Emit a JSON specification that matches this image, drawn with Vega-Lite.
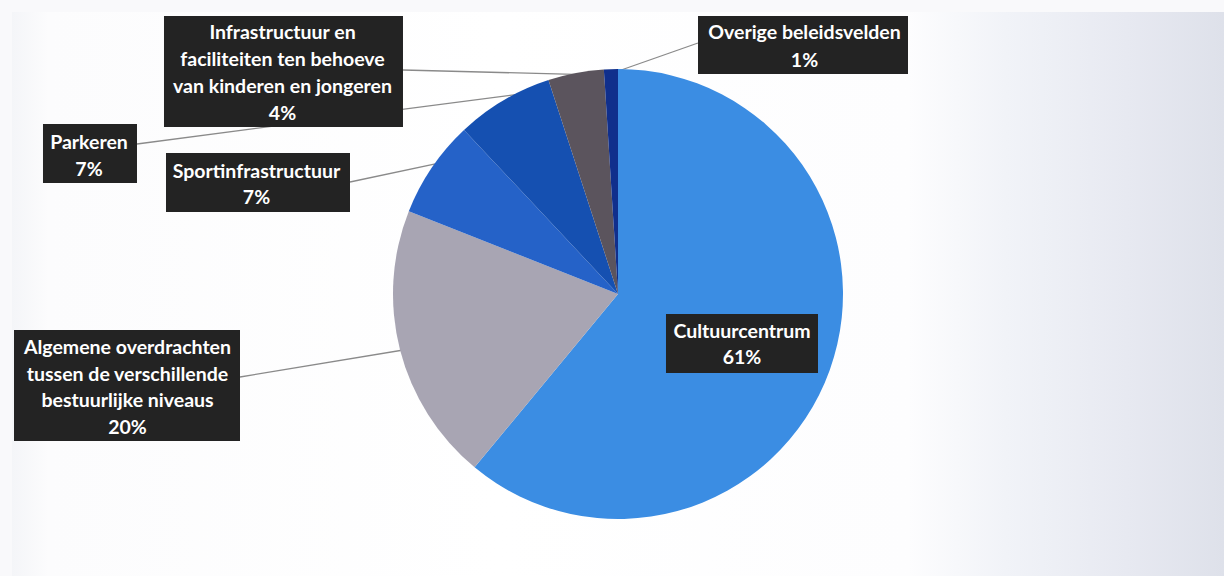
{
  "$schema": "https://vega.github.io/schema/vega-lite/v6.json",
  "width": 1224,
  "height": 576,
  "autosize": {"type": "fit", "contains": "padding"},
  "padding": {"left": 12, "top": 12, "right": 0, "bottom": 0},
  "background": "#f9f9fb",
  "config": {"view": {"stroke": null}},
  "data": {
    "values": [
      {"rank": 1, "category": "Cultuurcentrum", "value": 61, "label": "Cultuurcentrum\n61%"},
      {"rank": 2, "category": "Algemene overdrachten tussen de verschillende bestuurlijke niveaus", "value": 20, "label": "Algemene overdrachten\ntussen de verschillende\nbestuurlijke niveaus\n20%"},
      {"rank": 3, "category": "Sportinfrastructuur", "value": 7, "label": "Sportinfrastructuur\n7%"},
      {"rank": 4, "category": "Parkeren", "value": 7, "label": "Parkeren\n7%"},
      {"rank": 5, "category": "Infrastructuur en faciliteiten ten behoeve van kinderen en jongeren", "value": 4, "label": "Infrastructuur en\nfaciliteiten ten behoeve\nvan kinderen en jongeren\n4%"},
      {"rank": 6, "category": "Overige beleidsvelden", "value": 1, "label": "Overige beleidsvelden\n1%"}
    ]
  },
  "layer": [
    {
      "transform": [{"filter": "datum.rank == 1"}],
      "mark": {"type": "rect", "color": {"gradient": "linear", "x1": 0, "y1": 0, "x2": 1, "y2": 0, "stops": [
        {"offset": 0, "color": "#f4f5f8"},
        {"offset": 0.03, "color": "#fcfcfd"},
        {"offset": 0.4, "color": "#ffffff"},
        {"offset": 0.74, "color": "#fdfdfe"},
        {"offset": 0.82, "color": "#f1f3f8"},
        {"offset": 0.92, "color": "#e7e9f1"},
        {"offset": 1, "color": "#dee1ea"}
      ]}}
    },
    {
      "transform": [{"filter": "datum.rank == 2"}],
      "mark": {"type": "rule", "color": "#8a8a8a", "strokeWidth": 1.3},
      "encoding": {
        "x": {"datum": -1.68, "type": "quantitative", "scale": {"domain": [-2.69333, 2.69333], "nice": false, "zero": false}, "axis": null},
        "y": {"datum": -0.3689, "type": "quantitative", "scale": {"domain": [-1.25333, 1.25333], "nice": false, "zero": false}, "axis": null},
        "x2": {"datum": -0.9},
        "y2": {"datum": -0.24}
      }
    },
    {
      "transform": [{"filter": "datum.rank == 3"}],
      "mark": {"type": "rule", "color": "#8a8a8a", "strokeWidth": 1.3},
      "encoding": {
        "x": {"datum": -1.1911, "type": "quantitative", "scale": {"domain": [-2.69333, 2.69333], "nice": false, "zero": false}, "axis": null},
        "y": {"datum": 0.4978, "type": "quantitative", "scale": {"domain": [-1.25333, 1.25333], "nice": false, "zero": false}, "axis": null},
        "x2": {"datum": -0.78},
        "y2": {"datum": 0.585}
      }
    },
    {
      "transform": [{"filter": "datum.rank == 4"}],
      "mark": {"type": "rule", "color": "#8a8a8a", "strokeWidth": 1.3},
      "encoding": {
        "x": {"datum": -2.1378, "type": "quantitative", "scale": {"domain": [-2.69333, 2.69333], "nice": false, "zero": false}, "axis": null},
        "y": {"datum": 0.6667, "type": "quantitative", "scale": {"domain": [-1.25333, 1.25333], "nice": false, "zero": false}, "axis": null},
        "x2": {"datum": -0.42},
        "y2": {"datum": 0.891}
      }
    },
    {
      "transform": [{"filter": "datum.rank == 5"}],
      "mark": {"type": "rule", "color": "#8a8a8a", "strokeWidth": 1.3},
      "encoding": {
        "x": {"datum": -0.9556, "type": "quantitative", "scale": {"domain": [-2.69333, 2.69333], "nice": false, "zero": false}, "axis": null},
        "y": {"datum": 0.9956, "type": "quantitative", "scale": {"domain": [-1.25333, 1.25333], "nice": false, "zero": false}, "axis": null},
        "x2": {"datum": -0.15},
        "y2": {"datum": 0.975}
      }
    },
    {
      "transform": [{"filter": "datum.rank == 6"}],
      "mark": {"type": "rule", "color": "#8a8a8a", "strokeWidth": 1.3},
      "encoding": {
        "x": {"datum": 0.3556, "type": "quantitative", "scale": {"domain": [-2.69333, 2.69333], "nice": false, "zero": false}, "axis": null},
        "y": {"datum": 1.1156, "type": "quantitative", "scale": {"domain": [-1.25333, 1.25333], "nice": false, "zero": false}, "axis": null},
        "x2": {"datum": -0.03},
        "y2": {"datum": 0.98}
      }
    },
    {
      "mark": {"type": "arc", "outerRadius": 225},
      "encoding": {
        "theta": {"field": "value", "type": "quantitative", "stack": true},
        "order": {"field": "rank", "type": "quantitative"},
        "color": {
          "field": "category", "type": "nominal", "legend": null,
          "scale": {
            "domain": ["Cultuurcentrum", "Algemene overdrachten tussen de verschillende bestuurlijke niveaus", "Sportinfrastructuur", "Parkeren", "Infrastructuur en faciliteiten ten behoeve van kinderen en jongeren", "Overige beleidsvelden"],
            "range": ["#3b8de3", "#a8a5b3", "#2562c8", "#1550b1", "#5b545d", "#102f8c"]
          }
        }
      }
    },
    {
      "transform": [{"filter": "datum.rank == 1"}],
      "layer": [
        {
          "mark": {"type": "rect", "color": "#232323"},
          "encoding": {
            "x": {"datum": 0.2133, "type": "quantitative", "scale": {"domain": [-2.69333, 2.69333], "nice": false, "zero": false}, "axis": null},
            "x2": {"datum": 0.8889},
            "y": {"datum": -0.0889, "type": "quantitative", "scale": {"domain": [-1.25333, 1.25333], "nice": false, "zero": false}, "axis": null},
            "y2": {"datum": -0.3511}
          }
        },
        {
          "mark": {"type": "text", "lineBreak": "\n", "font": "Lato", "fontWeight": "bold", "fontSize": 19.5, "lineHeight": 26, "color": "#ffffff", "align": "center", "baseline": "middle"},
          "encoding": {
            "text": {"field": "label"},
            "x": {"datum": 0.5511, "type": "quantitative", "scale": {"domain": [-2.69333, 2.69333], "nice": false, "zero": false}, "axis": null},
            "y": {"datum": -0.1689, "type": "quantitative", "scale": {"domain": [-1.25333, 1.25333], "nice": false, "zero": false}, "axis": null}
          }
        }
      ]
    },
    {
      "transform": [{"filter": "datum.rank == 2"}],
      "layer": [
        {
          "mark": {"type": "rect", "color": "#232323"},
          "encoding": {
            "x": {"datum": -2.6844, "type": "quantitative", "scale": {"domain": [-2.69333, 2.69333], "nice": false, "zero": false}, "axis": null},
            "x2": {"datum": -1.68},
            "y": {"datum": -0.16, "type": "quantitative", "scale": {"domain": [-1.25333, 1.25333], "nice": false, "zero": false}, "axis": null},
            "y2": {"datum": -0.6533}
          }
        },
        {
          "mark": {"type": "text", "lineBreak": "\n", "font": "Lato", "fontWeight": "bold", "fontSize": 19.5, "lineHeight": 26.7, "color": "#ffffff", "align": "center", "baseline": "middle"},
          "encoding": {
            "text": {"field": "label"},
            "x": {"datum": -2.18, "type": "quantitative", "scale": {"domain": [-2.69333, 2.69333], "nice": false, "zero": false}, "axis": null},
            "y": {"datum": -0.24, "type": "quantitative", "scale": {"domain": [-1.25333, 1.25333], "nice": false, "zero": false}, "axis": null}
          }
        }
      ]
    },
    {
      "transform": [{"filter": "datum.rank == 3"}],
      "layer": [
        {
          "mark": {"type": "rect", "color": "#232323"},
          "encoding": {
            "x": {"datum": -2.0089, "type": "quantitative", "scale": {"domain": [-2.69333, 2.69333], "nice": false, "zero": false}, "axis": null},
            "x2": {"datum": -1.1911},
            "y": {"datum": 0.6267, "type": "quantitative", "scale": {"domain": [-1.25333, 1.25333], "nice": false, "zero": false}, "axis": null},
            "y2": {"datum": 0.3644}
          }
        },
        {
          "mark": {"type": "text", "lineBreak": "\n", "font": "Lato", "fontWeight": "bold", "fontSize": 19.5, "lineHeight": 26, "color": "#ffffff", "align": "center", "baseline": "middle"},
          "encoding": {
            "text": {"field": "label"},
            "x": {"datum": -1.6067, "type": "quantitative", "scale": {"domain": [-2.69333, 2.69333], "nice": false, "zero": false}, "axis": null},
            "y": {"datum": 0.5422, "type": "quantitative", "scale": {"domain": [-1.25333, 1.25333], "nice": false, "zero": false}, "axis": null}
          }
        }
      ]
    },
    {
      "transform": [{"filter": "datum.rank == 4"}],
      "layer": [
        {
          "mark": {"type": "rect", "color": "#232323"},
          "encoding": {
            "x": {"datum": -2.5556, "type": "quantitative", "scale": {"domain": [-2.69333, 2.69333], "nice": false, "zero": false}, "axis": null},
            "x2": {"datum": -2.1378},
            "y": {"datum": 0.7556, "type": "quantitative", "scale": {"domain": [-1.25333, 1.25333], "nice": false, "zero": false}, "axis": null},
            "y2": {"datum": 0.4933}
          }
        },
        {
          "mark": {"type": "text", "lineBreak": "\n", "font": "Lato", "fontWeight": "bold", "fontSize": 19.5, "lineHeight": 27, "color": "#ffffff", "align": "center", "baseline": "middle"},
          "encoding": {
            "text": {"field": "label"},
            "x": {"datum": -2.3511, "type": "quantitative", "scale": {"domain": [-2.69333, 2.69333], "nice": false, "zero": false}, "axis": null},
            "y": {"datum": 0.6711, "type": "quantitative", "scale": {"domain": [-1.25333, 1.25333], "nice": false, "zero": false}, "axis": null}
          }
        }
      ]
    },
    {
      "transform": [{"filter": "datum.rank == 5"}],
      "layer": [
        {
          "mark": {"type": "rect", "color": "#232323"},
          "encoding": {
            "x": {"datum": -2.0178, "type": "quantitative", "scale": {"domain": [-2.69333, 2.69333], "nice": false, "zero": false}, "axis": null},
            "x2": {"datum": -0.9556},
            "y": {"datum": 1.2356, "type": "quantitative", "scale": {"domain": [-1.25333, 1.25333], "nice": false, "zero": false}, "axis": null},
            "y2": {"datum": 0.7422}
          }
        },
        {
          "mark": {"type": "text", "lineBreak": "\n", "font": "Lato", "fontWeight": "bold", "fontSize": 19.5, "lineHeight": 27, "color": "#ffffff", "align": "center", "baseline": "middle"},
          "encoding": {
            "text": {"field": "label"},
            "x": {"datum": -1.4911, "type": "quantitative", "scale": {"domain": [-2.69333, 2.69333], "nice": false, "zero": false}, "axis": null},
            "y": {"datum": 1.16, "type": "quantitative", "scale": {"domain": [-1.25333, 1.25333], "nice": false, "zero": false}, "axis": null}
          }
        }
      ]
    },
    {
      "transform": [{"filter": "datum.rank == 6"}],
      "layer": [
        {
          "mark": {"type": "rect", "color": "#232323"},
          "encoding": {
            "x": {"datum": 0.3556, "type": "quantitative", "scale": {"domain": [-2.69333, 2.69333], "nice": false, "zero": false}, "axis": null},
            "x2": {"datum": 1.2889},
            "y": {"datum": 1.2356, "type": "quantitative", "scale": {"domain": [-1.25333, 1.25333], "nice": false, "zero": false}, "axis": null},
            "y2": {"datum": 0.9778}
          }
        },
        {
          "mark": {"type": "text", "lineBreak": "\n", "font": "Lato", "fontWeight": "bold", "fontSize": 19.5, "lineHeight": 28, "color": "#ffffff", "align": "center", "baseline": "middle"},
          "encoding": {
            "text": {"field": "label"},
            "x": {"datum": 0.8289, "type": "quantitative", "scale": {"domain": [-2.69333, 2.69333], "nice": false, "zero": false}, "axis": null},
            "y": {"datum": 1.16, "type": "quantitative", "scale": {"domain": [-1.25333, 1.25333], "nice": false, "zero": false}, "axis": null}
          }
        }
      ]
    }
  ]
}
